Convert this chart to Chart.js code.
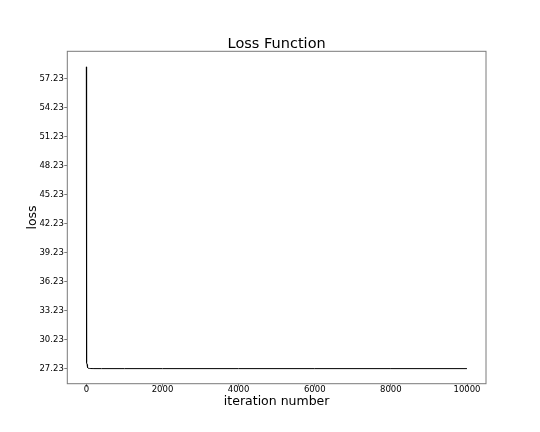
<!DOCTYPE html>
<html>
<head>
<meta charset="utf-8">
<title>Loss Function</title>
<script src="https://cdn.jsdelivr.net/npm/chart.js@4"></script>
<style>
  html, body { margin: 0; padding: 0; background: #fff; }
  #chart { display: block; }
</style>
</head>
<body>
<canvas id="chart" width="540" height="432"></canvas>
<script>
'use strict';

// values
const ITERATIONS = [0, 1, 2, 3, 4, 5, 6, 8, 10, 13, 16, 20, 25, 30, 40, 50, 60, 80, 100, 150, 200, 400, 1000, 2000, 4000, 6000, 8000, 9999];
const LOSSES = [58.45, 36.2, 33.4, 31.8, 30.8, 30.1, 29.6, 28.9, 28.5, 28.1, 27.85, 27.65, 27.5, 27.42, 27.34, 27.29, 27.27, 27.25, 27.24, 27.235, 27.232, 27.231, 27.23, 27.23, 27.23, 27.23, 27.23, 27.23];
const X_TICKS = [0, 2000, 4000, 6000, 8000, 10000];
const Y_TICKS = [27.23, 30.23, 33.23, 36.23, 39.23, 42.23, 45.23, 48.23, 51.23, 54.23, 57.23];
const TITLE = 'Loss Function';

const FONT = 'DejaVu Sans';
const SPINE = '#7a7a7a';

// matplotlib-like box around the plot area, plus the title centred over it
const framePlugin = {
  id: 'frame',
  afterDraw(chart) {
    const { ctx, chartArea: a } = chart;
    ctx.save();
    ctx.strokeStyle = SPINE;
    ctx.lineWidth = 1;
    ctx.strokeRect(a.left, a.top, a.right - a.left, a.bottom - a.top);
    ctx.fillStyle = '#000';
    ctx.font = `14.5px "${FONT}"`;
    ctx.textAlign = 'center';
    ctx.textBaseline = 'alphabetic';
    ctx.fillText(TITLE, (a.left + a.right) / 2, a.top - 3);
    ctx.restore();
  },
};

const points = ITERATIONS.map((x, i) => ({ x, y: LOSSES[i] }));

new Chart(document.getElementById('chart'), {
  type: 'line',
  data: {
    datasets: [{
      data: points,
      borderColor: '#000',
      borderWidth: 1,
      pointRadius: 0,
      tension: 0,
      fill: false,
    }],
  },
  options: {
    responsive: false,
    animation: false,
    layout: { padding: { top: 51.3, right: 54, bottom: 0, left: 0 } },
    plugins: {
      legend: { display: false },
      tooltip: { enabled: false },
      title: { display: false },
    },
    scales: {
      x: {
        type: 'linear',
        min: -500,
        max: 10499,
        afterBuildTicks: (scale) => { scale.ticks = X_TICKS.map((v) => ({ value: v })); },
        afterFit: (scale) => { scale.height = 48.3; },
        ticks: {
          autoSkip: false,
          maxRotation: 0,
          color: '#000',
          padding: -1,
          font: { family: FONT, size: 8.5, lineHeight: 1 },
          callback: (v) => String(v),
        },
        grid: { drawOnChartArea: false, drawTicks: true, tickLength: 3, color: SPINE },
        border: { display: false },
        title: {
          display: true,
          text: 'iteration number',
          color: '#000',
          font: { family: FONT, size: 12.5 },
          padding: { top: 0, bottom: 22.3 },
        },
      },
      y: {
        type: 'linear',
        min: 25.67,
        max: 60.06,
        afterBuildTicks: (scale) => { scale.ticks = Y_TICKS.map((v) => ({ value: v })); },
        afterFit: (scale) => { scale.width = 67.3; },
        ticks: {
          autoSkip: false,
          color: '#000',
          padding: 0.5,
          font: { family: FONT, size: 8.5 },
          callback: (v) => v.toFixed(2),
        },
        grid: { drawOnChartArea: false, drawTicks: true, tickLength: 3, color: SPINE },
        border: { display: false },
        title: {
          display: true,
          text: 'loss',
          color: '#000',
          font: { family: FONT, size: 12.5 },
          padding: { top: 25, bottom: 0 },
        },
      },
    },
  },
  plugins: [framePlugin],
});
</script>
</body>
</html>
